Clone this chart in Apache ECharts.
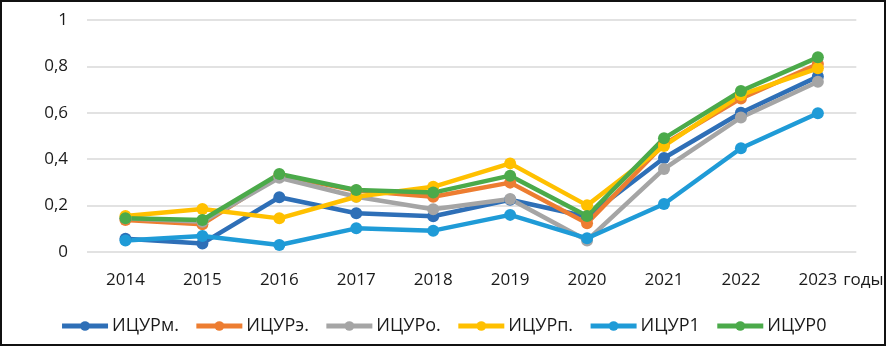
<!DOCTYPE html>
<html>
<head>
<meta charset="utf-8">
<script src="https://cdn.jsdelivr.net/npm/echarts@6/dist/echarts.min.js"></script>
<style>
    body { margin: 0; background: #fff; }
    #wrap { position: relative; width: 886px; height: 353px; overflow: hidden; }
    #chart { width: 886px; height: 353px; }
    #frame { position: absolute; left: 0; top: 0; width: 882px; height: 342px; border: 2px solid #111; pointer-events: none; }
</style>
</head>
<body>
<div id="wrap">
    <div id="chart"></div>
    <div id="frame"></div>
</div>
<script>
// годы
var years = ['2014', '2015', '2016', '2017', '2018', '2019', '2020', '2021', '2022', '2023'];

// индексы
var icurM = [0.057, 0.037, 0.236, 0.167, 0.154, 0.225, 0.152, 0.405, 0.600, 0.756];
var icurE = [0.138, 0.120, 0.330, 0.265, 0.238, 0.299, 0.124, 0.465, 0.662, 0.810];
var icurO = [0.145, 0.130, 0.320, 0.238, 0.184, 0.228, 0.050, 0.358, 0.580, 0.734];
var icurP = [0.155, 0.185, 0.145, 0.238, 0.281, 0.382, 0.201, 0.457, 0.677, 0.792];
var icur1 = [0.050, 0.069, 0.030, 0.102, 0.092, 0.160, 0.059, 0.207, 0.447, 0.598];
var icur0 = [0.145, 0.138, 0.336, 0.267, 0.256, 0.329, 0.155, 0.490, 0.694, 0.839];

var names = ['ИЦУРм.', 'ИЦУРэ.', 'ИЦУРо.', 'ИЦУРп.', 'ИЦУР1', 'ИЦУР0'];
var colors = ['#2E6FB7', '#ED7D31', '#A5A5A5', '#FFC000', '#1F9BD7', '#4BAA4A'];
var values = [icurM, icurE, icurO, icurP, icur1, icur0];

var font = '"Open Sans", "Noto Sans", sans-serif';

var myChart = echarts.init(document.getElementById('chart'));

var series = [];
for (var i = 0; i < names.length; i++) {
    series.push({
        name: names[i],
        type: 'line',
        data: values[i],
        symbol: 'circle',
        symbolSize: 12,
        color: colors[i],
        lineStyle: { width: 4.5, color: colors[i] },
        itemStyle: { color: colors[i] },
        emphasis: { disabled: true }
    });
}

var option = {
    animation: false,
    grid: { left: 87, right: 18, top: 20, bottom: 101 },
    legend: {
        top: 312,
        left: 'center',
        itemWidth: 46,
        itemHeight: 12,
        itemGap: 15,
        lineStyle: { width: 5 },
        textStyle: { fontFamily: font, fontSize: 18, color: '#1a1a1a', padding: [0, 0, 0, -1] },
        data: names
    },
    xAxis: {
        type: 'category',
        data: years,
        boundaryGap: true,
        name: 'годы',
        nameLocation: 'end',
        nameGap: -20,
        nameTextStyle: {
            fontFamily: font, fontSize: 17, color: '#1a1a1a',
            align: 'left', verticalAlign: 'top', padding: [20, 0, 0, 0]
        },
        axisLine: { show: false },
        axisTick: { show: false },
        axisLabel: { fontFamily: font, fontSize: 17, color: '#1a1a1a', margin: 20 }
    },
    yAxis: {
        type: 'value',
        min: 0,
        max: 1,
        interval: 0.2,
        axisLine: { show: false },
        axisTick: { show: false },
        axisLabel: {
            fontFamily: font, fontSize: 17, color: '#1a1a1a', margin: 19,
            formatter: function (v) { return String(Math.round(v * 10) / 10).replace('.', ','); }
        },
        splitLine: { lineStyle: { color: '#d9d9d9', width: 1.5 } }
    },
    series: series
};
myChart.setOption(option);
</script>
</body>
</html>
